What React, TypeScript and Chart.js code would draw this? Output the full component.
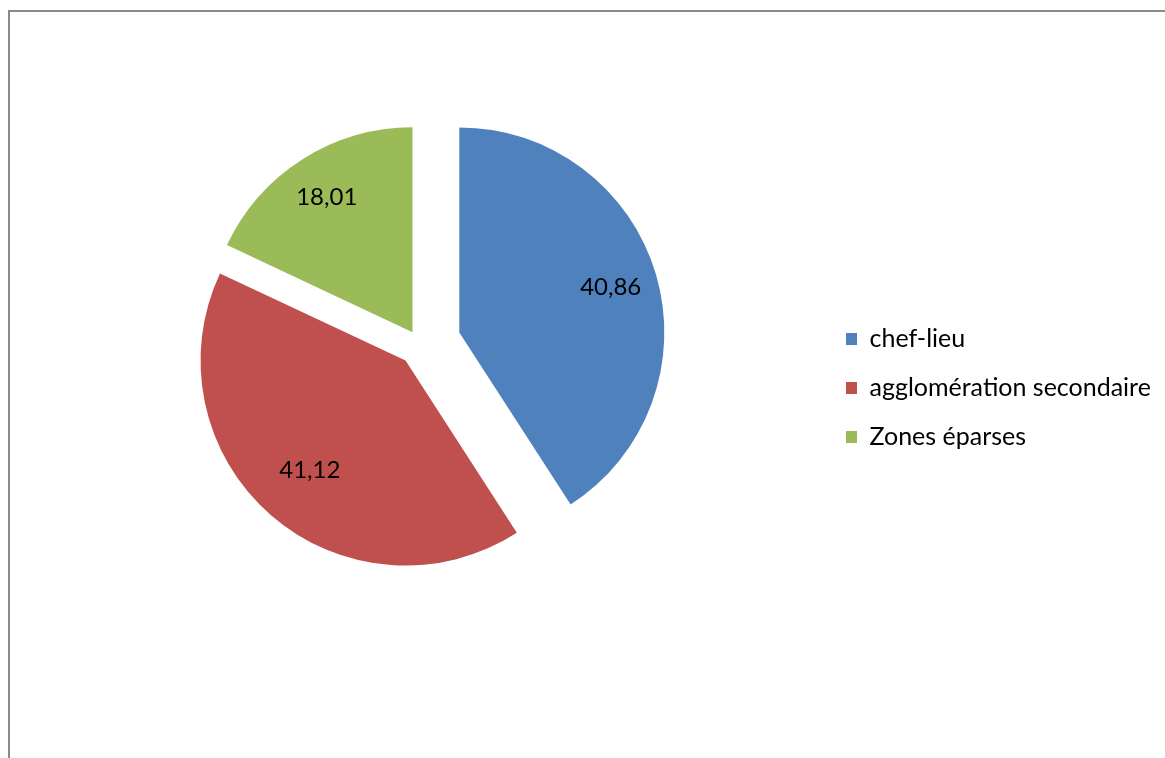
import React, { useEffect, useRef } from 'react';
import { Chart, registerables } from 'chart.js';

Chart.register(...registerables);

// ---- data ----
const categories = ['chef-lieu', 'agglomération secondaire', 'Zones éparses'];
const shares = [40.86, 41.12, 18.01];
const sliceColors = ['#4F81BD', '#C0504D', '#9BBB59'];

// ---- style constants ----
const W = 1165;
const H = 758;
const FONT = 'Lato, "Open Sans", sans-serif';
const LEGEND_FONT = 25;
const LABEL_FONT = 24;
const LEGEND_PAD = 24;
const BOX_W = 11;
const BOX_H = 12;
const RADIUS = 205;
const EXPLODE = [41, 22, 14];
const LABEL_FRACTION = [0.77, 0.71, 0.78];
const CENTER_X = 420;
const CENTER_Y = 344;
const LEGEND_BOX_X = 846;
const LEGEND_FIRST_Y = 339;

const fmt = (v: number) => v.toFixed(2).replace('.', ',');

const framePlugin = {
  id: 'frame',
  beforeDraw(chart: any) {
    const ctx = chart.ctx;
    ctx.save();
    ctx.fillStyle = '#8a8a8a';
    ctx.fillRect(8, 10, chart.width, 2);
    ctx.fillRect(8, 10, 2, chart.height);
    ctx.restore();
  },
};

const explodePlugin = {
  id: 'explode',
  beforeDatasetDraw(chart: any, args: any) {
    const ctx = chart.ctx;
    args.meta.data.forEach((arc: any, i: number) => {
      const { startAngle, endAngle } = arc.getProps(['startAngle', 'endAngle'], true);
      const mid = (startAngle + endAngle) / 2;
      const d = EXPLODE[i] || 0;
      ctx.save();
      ctx.translate(Math.cos(mid) * d, Math.sin(mid) * d);
      arc.draw(ctx);
      ctx.restore();
    });
    return false;
  },
};

const labelPlugin = {
  id: 'sliceLabels',
  afterDatasetsDraw(chart: any) {
    const ctx = chart.ctx;
    const meta = chart.getDatasetMeta(0);
    const values = chart.data.datasets[0].data as number[];
    ctx.save();
    ctx.fillStyle = '#000';
    ctx.font = `${LABEL_FONT}px ${FONT}`;
    ctx.textAlign = 'center';
    ctx.textBaseline = 'middle';
    meta.data.forEach((arc: any, i: number) => {
      const { x, y, startAngle, endAngle, outerRadius } = arc.getProps(
        ['x', 'y', 'startAngle', 'endAngle', 'outerRadius'],
        true
      );
      const mid = (startAngle + endAngle) / 2;
      const r = (EXPLODE[i] || 0) + outerRadius * LABEL_FRACTION[i];
      ctx.fillText(fmt(values[i]), x + Math.cos(mid) * r, y + Math.sin(mid) * r);
    });
    ctx.restore();
  },
};

export default function App() {
  const ref = useRef<HTMLCanvasElement | null>(null);

  useEffect(() => {
    const canvas = ref.current;
    if (!canvas) return;
    const c2 = canvas.getContext('2d')!;
    c2.font = `${LEGEND_FONT}px ${FONT}`;
    const textW = Math.max(...categories.map((t) => c2.measureText(t).width));
    const legendLeft = LEGEND_BOX_X - LEGEND_PAD;
    const legendWidth = LEGEND_PAD + BOX_W + LEGEND_FONT / 2 + textW + 10;
    const padR = Math.max(0, W - legendLeft - legendWidth);
    const padL = 2 * CENTER_X - legendLeft;
    const padB = H - 2 * CENTER_Y;
    const titleSize = 12;
    const titleTotal = LEGEND_FIRST_Y - LEGEND_PAD - LEGEND_FONT / 2;
    const titlePadTop = titleTotal - titleSize * 1.2;

    const chart = new Chart(canvas, {
      type: 'pie',
      data: {
        labels: categories,
        datasets: [
          {
            data: shares,
            backgroundColor: sliceColors,
            borderWidth: 0,
            radius: RADIUS,
          } as any,
        ],
      },
      options: {
        responsive: false,
        animation: false,
        devicePixelRatio: 1,
        layout: { padding: { left: padL, right: padR, top: 0, bottom: padB } },
        plugins: {
          tooltip: { enabled: false },
          legend: {
            position: 'right',
            align: 'start',
            title: {
              display: true,
              text: ' ',
              font: { size: titleSize },
              padding: { top: titlePadTop, bottom: 0 },
            },
            labels: {
              boxWidth: BOX_W,
              boxHeight: BOX_H,
              padding: LEGEND_PAD,
              color: '#000',
              font: { family: FONT, size: LEGEND_FONT },
            },
          },
        },
      },
      plugins: [framePlugin, explodePlugin, labelPlugin],
    });
    return () => chart.destroy();
  }, []);

  return (
    <div style={{ position: 'absolute', left: 0, top: 0, width: W, height: H, background: '#fff' }}>
      <canvas ref={ref} width={W} height={H} style={{ display: 'block' }} />
    </div>
  );
}
